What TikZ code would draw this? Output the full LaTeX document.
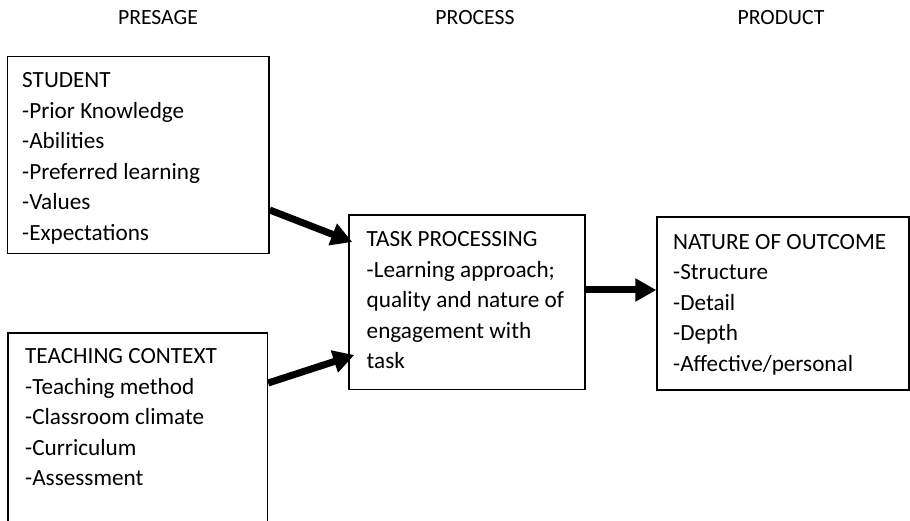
\documentclass[tikz,border=0pt]{standalone}
\usepackage{fontspec}
\setmainfont{Carlito}
\usetikzlibrary{arrows.meta}
\begin{document}
\begin{tikzpicture}[x=1pt,y=-1pt,
  boxst/.style={draw,line width=1.4pt,rectangle,inner sep=0pt},
  txt/.style={anchor=north west,inner sep=0pt,align=left,font=\fontsize{23.2}{30.5}\selectfont},
  hdr/.style={anchor=base,inner sep=0pt,font=\fontsize{21.7}{26}\selectfont},
  arr/.style={line width=7pt,-{Triangle[length=21pt,width=22pt]}}]
\useasboundingbox (0,0) rectangle (910,521);
\clip (0,0) rectangle (910,521);
\fill[white] (0,0) rectangle (910,521);
% headers
\node[hdr] (hpre) at (158,25) {PRESAGE};
\node[hdr] (hproc) at (475,25) {PROCESS};
\node[hdr] (hprod) at (781,25) {PRODUCT};
% boxes
\node[boxst,minimum width=261.5pt,minimum height=197pt] (student) at (138.25,155.25) {};
\node[boxst,minimum width=259.5pt,minimum height=227pt] (teach) at (137.75,446.5) {};
\node[boxst,minimum width=236pt,minimum height=174.5pt] (task) at (467,302.25) {};
\node[boxst,minimum width=252pt,minimum height=173pt] (outcome) at (783,303.5) {};
% texts
\node[txt] (studenttxt) at (22,72.5) {STUDENT\\-Prior Knowledge\\-Abilities\\-Preferred learning\\-Values\\-Expectations};
\node[txt] (teachtxt) at (25,348.5) {TEACHING CONTEXT\\-Teaching method\\-Classroom climate\\-Curriculum\\-Assessment};
\node[txt] (tasktxt) at (366.5,231.5) {TASK PROCESSING\\-Learning approach;\\quality and nature of\\engagement with\\task};
\node[txt] (outtxt) at (673,234) {NATURE OF OUTCOME\\-Structure\\-Detail\\-Depth\\-Affective/personal};
% arrows
\draw[arr] ([yshift=-54.75pt]student.east) -- ([xshift=4pt,yshift=60.25pt]task.west);
\draw[arr] ([yshift=63.5pt]teach.east) -- ([xshift=6pt,yshift=-52.75pt]task.west);
\draw[arr] ([yshift=12.25pt]task.east) -- ([yshift=13.5pt]outcome.west);
\end{tikzpicture}
\end{document}
